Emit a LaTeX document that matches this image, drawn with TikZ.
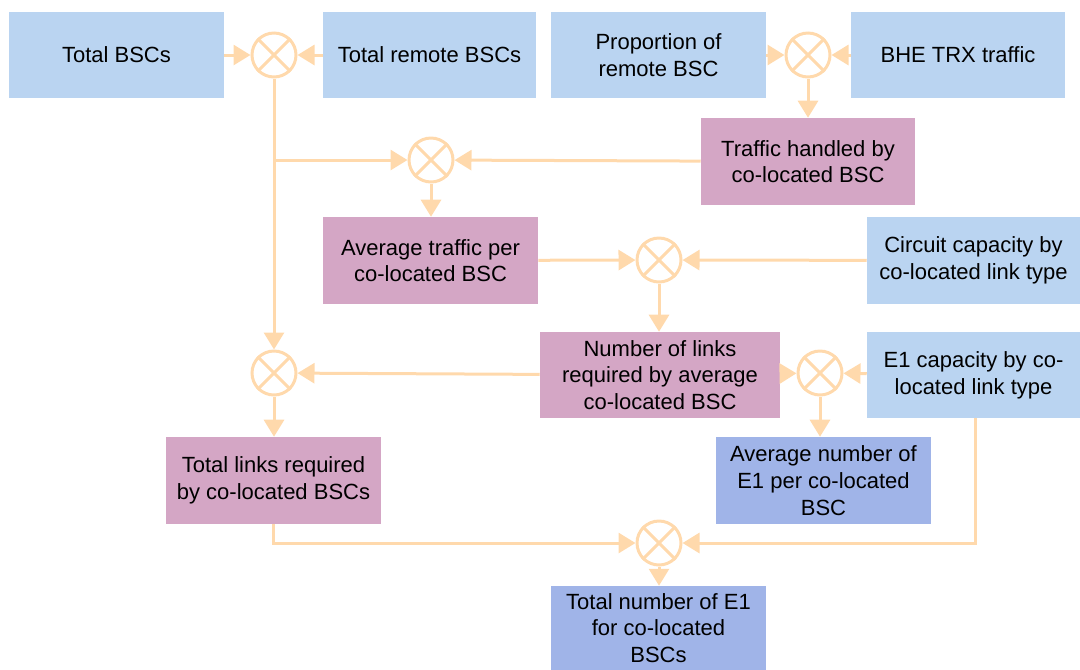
\documentclass[tikz,border=0pt]{standalone}
\usepackage{fontspec}
\setmainfont{Liberation Sans}
\usetikzlibrary{arrows.meta}
\newdimen\pxu \pxu=0.75pt
\definecolor{inputblue}{RGB}{186,212,241}
\definecolor{calcmauve}{RGB}{212,166,197}
\definecolor{resultblue}{RGB}{160,180,232}
\definecolor{flow}{RGB}{255,217,172}
\begin{document}
\begin{tikzpicture}[x=0.75pt,y=-0.75pt,
  box/.style={rectangle, minimum height=86\pxu, align=center, inner sep=2pt,
    font=\fontsize{16.5pt}{20pt}\selectfont, text=black},
  inbox/.style={box, fill=inputblue},
  calcbox/.style={box, fill=calcmauve},
  resbox/.style={box, fill=resultblue},
  mult/.style={circle, draw=flow, line width=2.25pt, minimum size=33pt, inner sep=0pt},
  arr/.style={draw=flow, line width=2.25pt, -{Triangle[length=12.75pt,width=15pt]}},
  link/.style={draw=flow, line width=2.25pt}]
\useasboundingbox (0,0) rectangle (1080,669);

% input and intermediate boxes
\node[inbox, minimum width=215\pxu] (tot) at (116.5,55) {Total BSCs};
\node[inbox, minimum width=213\pxu] (rem) at (429.5,55) {Total remote BSCs};
\node[inbox, minimum width=215\pxu] (prop) at (658.5,55) {Proportion of\\remote BSC};
\node[inbox, minimum width=214\pxu] (bhe) at (958,55) {BHE TRX traffic};
\node[calcbox, minimum width=214\pxu, minimum height=87\pxu] (thc) at (808,161.5) {Traffic handled by\\co-located BSC};
\node[calcbox, minimum width=215\pxu, minimum height=87\pxu] (avt) at (430.5,260.5) {Average traffic per\\co-located BSC};
\node[inbox, minimum width=213\pxu, minimum height=87\pxu] (cc) at (973.5,260.5) {Circuit capacity by\\co-located link type};
\node[calcbox, minimum width=240\pxu] (nl) at (660,375) {Number of links\\required by average\\co-located BSC};
\node[inbox, minimum width=213\pxu] (e1c) at (973.5,375) {E1 capacity by co-\\located link type};
\node[resbox, minimum width=215\pxu, minimum height=87\pxu] (ane) at (823.5,480.5) {Average number of\\E1 per co-located\\BSC};
\node[calcbox, minimum width=215\pxu, minimum height=87\pxu] (tl) at (273.5,480.5) {Total links required\\by co-located BSCs};
\node[resbox, minimum width=215\pxu, minimum height=84\pxu] (tne) at (658.5,628) {Total number of E1\\for co-located\\BSCs};

% multiplication junctions
\foreach \n/\x/\y in {c1/274/55, c2/808/55, c3/431/160, c4/659/260,
                      c5/274/373, c6/820/373, c7/659/543} {
  \node[mult] (\n) at (\x,\y) {};
  \draw[link] (\n.north west) -- (\n.south east)
              (\n.north east) -- (\n.south west);
}

% connectors
\draw[arr] (tot) -- (c1);
\draw[arr] (rem) -- (c1);
\draw[arr] (c1) -- (c5);
\coordinate (j1) at (c1 |- c3);
\draw[arr] (j1) -- (c3);
\draw[arr] (prop) -- (c2);
\draw[arr] (bhe) -- (c2);
\draw[arr] (c2) -- (thc);
\draw[arr] (thc) -- (c3);
\draw[arr] (c3) -- (avt.north -| c3);
\draw[arr] (avt) -- (c4);
\draw[arr] (cc) -- (c4);
\draw[arr] (c4) -- (nl.north -| c4);
\draw[arr] (nl) -- (c5);
\draw[arr] (c5) -- (tl.north -| c5);
\draw[arr] (nl) -- (c6);
\draw[arr] (e1c) -- (c6);
\draw[arr] (c6) -- (ane.north -| c6);
\draw[arr] (tl.south) |- (c7);
\coordinate (e1out) at (975,418);
\draw[arr] (e1out) |- (c7);
\draw[arr] (c7) -- (tne.north -| c7);
\end{tikzpicture}
\end{document}
